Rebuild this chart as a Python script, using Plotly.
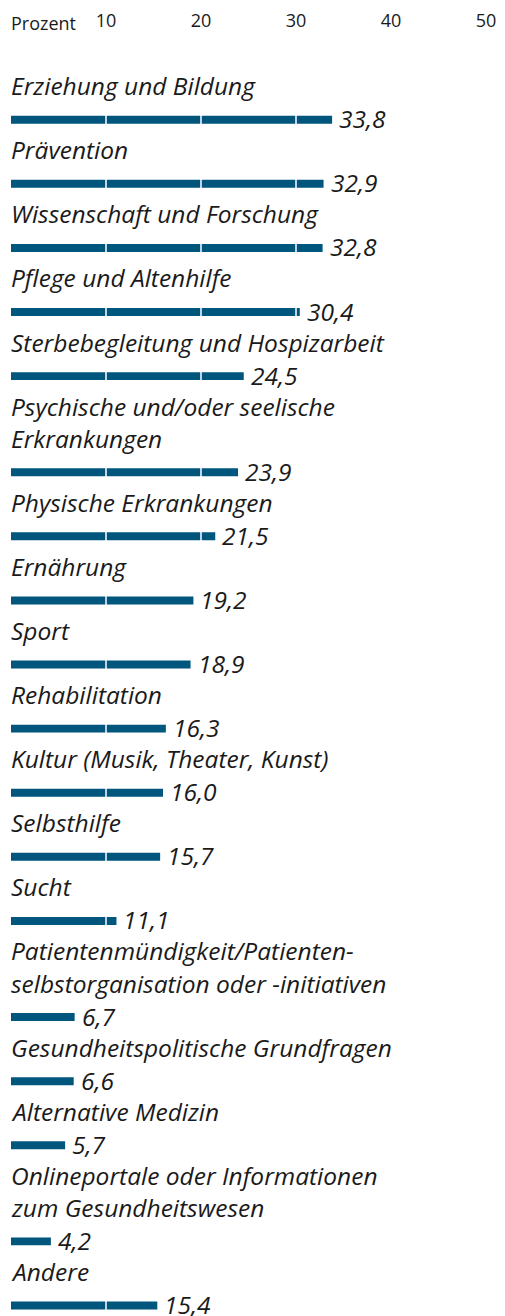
import plotly.graph_objects as go

categories = [
    "Erziehung und Bildung",
    "Prävention",
    "Wissenschaft und Forschung",
    "Pflege und Altenhilfe",
    "Sterbebegleitung und Hospizarbeit",
    "Psychische und/oder seelische<br>Erkrankungen",
    "Physische Erkrankungen",
    "Ernährung",
    "Sport",
    "Rehabilitation",
    "Kultur (Musik, Theater, Kunst)",
    "Selbsthilfe",
    "Sucht",
    "Patientenmündigkeit/Patienten-<br>selbstorganisation oder -initiativen",
    "Gesundheitspolitische Grundfragen",
    "Alternative Medizin",
    "Onlineportale oder Informationen<br>zum Gesundheitswesen",
    "Andere",
]
values = [33.8, 32.9, 32.8, 30.4, 24.5, 23.9, 21.5, 19.2, 18.9, 16.3, 16.0, 15.7,
          11.1, 6.7, 6.6, 5.7, 4.2, 15.4]
tick_values = [10, 20, 30, 40, 50]
tick_labels = ["10", "20", "30", "40", "50"]
axis_title = "Prozent"

BAR_COLOR = "#01567e"
TEXT_COLOR = "#1a1a1a"
FONT = "Open Sans"
PAGE_OFF = 8          # default body margin of the html page
W, H = 505, 1316      # window size
LINE_PX = 32.25       # pixel height of one text line / row unit
FIRST_LINE_PX = 63.8  # window pixel of top of first label line
PLOT_TOP = 40         # window pixel of plot-area top
PLOT_LEFT = 11        # window pixel of x = 0

# row positions in "line units": each row = label lines + one bar line
bar_pos = []
label_lines = []
cum = 0
for cat in categories:
    lines = cat.split("<br>")
    for k, ln in enumerate(lines):
        label_lines.append((ln, cum + k + 0.5))
    cum += len(lines) + 1
    bar_pos.append(cum - 0.5)

y_top = (PLOT_TOP - FIRST_LINE_PX) / LINE_PX
y_bot = (H - FIRST_LINE_PX) / LINE_PX

fig = go.Figure()
fig.add_trace(go.Bar(
    x=values, y=bar_pos, orientation="h",
    width=8 / LINE_PX,
    marker=dict(color=BAR_COLOR, line=dict(width=0)),
    hoverinfo="skip",
))

annotations = []
for ln, p in label_lines:
    annotations.append(dict(
        x=0, y=p, xref="x", yref="y", text=ln, showarrow=False,
        xanchor="left", yanchor="middle", xshift=-2, yshift=2,
        font=dict(family=FONT, size=24.5, color=TEXT_COLOR, style="italic"),
    ))
for v, p in zip(values, bar_pos):
    annotations.append(dict(
        x=v, y=p, xref="x", yref="y", text=f"{v:.1f}".replace(".", ","),
        showarrow=False, xanchor="left", yanchor="middle", xshift=5, yshift=1,
        font=dict(family=FONT, size=24.5, color=TEXT_COLOR, style="italic"),
    ))
annotations.append(dict(
    x=0, y=1, xref="x", yref="paper", text=axis_title, showarrow=False,
    xanchor="left", yanchor="middle", yshift=PLOT_TOP - 15, xshift=-2,
    font=dict(family=FONT, size=18, color=TEXT_COLOR),
))

shapes = []
for v in tick_values[:-1]:
    shapes.append(dict(
        type="line", x0=v, x1=v, xref="x", yref="paper", y0=0, y1=1,
        line=dict(color="white", width=1.5), layer="above",
    ))

plot_w = W - PLOT_LEFT
fig.update_layout(
    width=W - PAGE_OFF, height=H - PAGE_OFF,
    margin=dict(l=PLOT_LEFT - PAGE_OFF, r=0, t=PLOT_TOP - PAGE_OFF, b=0, pad=0),
    paper_bgcolor="white", plot_bgcolor="white",
    showlegend=False,
    annotations=annotations,
    shapes=shapes,
    xaxis=dict(
        side="top", range=[0, plot_w / 9.5],
        tickvals=tick_values, ticktext=tick_labels,
        showgrid=False, zeroline=False, showline=False, ticks="",
        tickfont=dict(family=FONT, size=18, color=TEXT_COLOR),
        ticklabelstandoff=16,
        fixedrange=True,
    ),
    yaxis=dict(
        range=[y_bot, y_top], showticklabels=False, showgrid=False,
        zeroline=False, showline=False, ticks="", fixedrange=True,
    ),
)

fig.write_html("out.html")
